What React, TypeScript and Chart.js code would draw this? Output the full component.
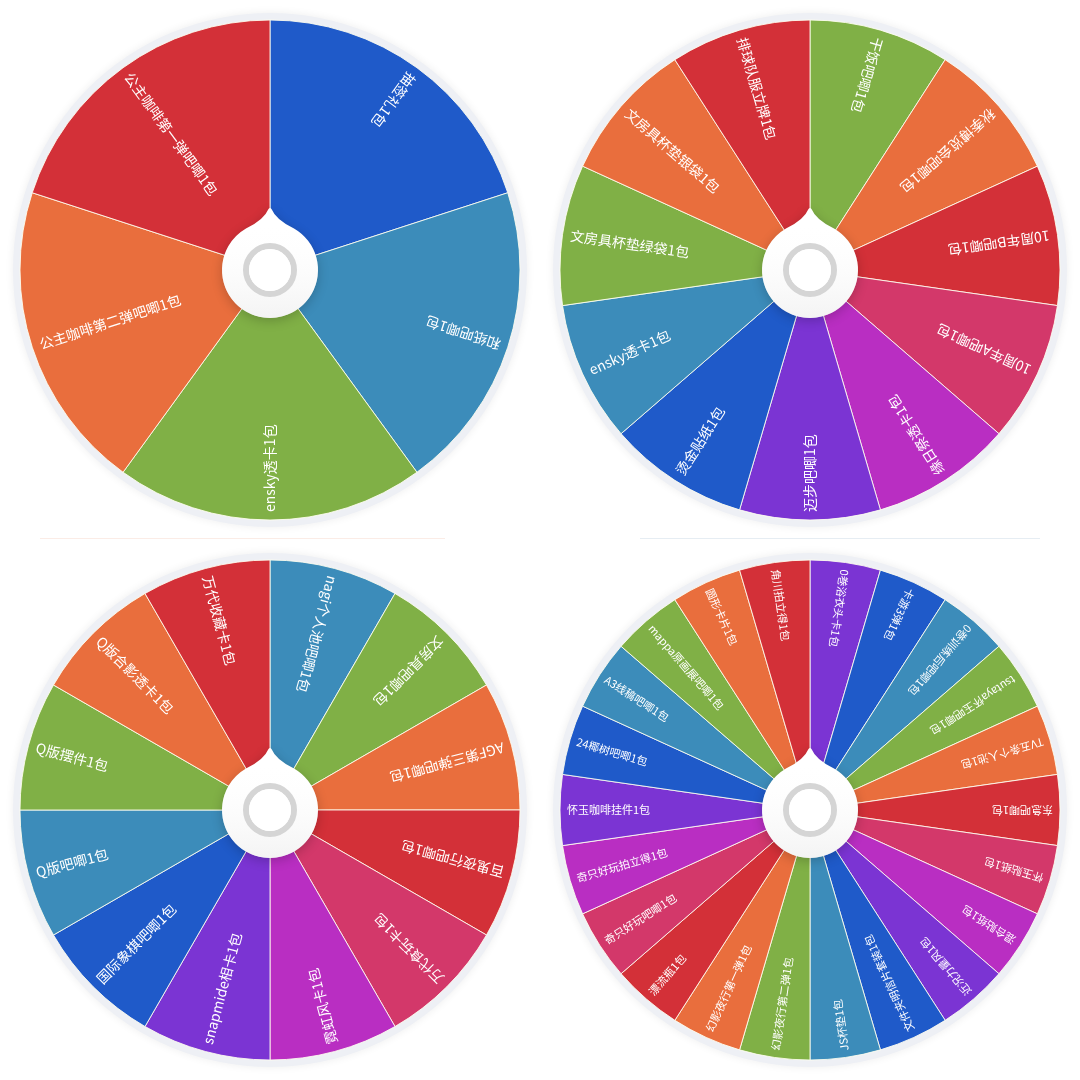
import React, { useEffect, useRef } from "react";
import { Chart, registerables } from "chart.js";

Chart.register(...registerables);

// ---- Data (clockwise from the top) ----
const wheel1Labels = ["抽签礼1包", "和纸吧唧1包", "ensky透卡1包", "公主咖啡第二弹吧唧1包", "公主咖啡第一弹吧唧1包"];
const wheel1Values = [1, 1, 1, 1, 1];

const wheel2Labels = [
  "干饭吧唧1包", "秋季博览会吧唧1包", "10周年B吧唧1包", "10周年A吧唧1包", "缘日祭透卡1包",
  "迈步吧唧1包", "烫金贴纸1包", "ensky透卡1包", "文房具杯垫绿袋1包", "文房具杯垫银袋1包", "排球队服立牌1包",
];
const wheel2Values = [1, 1, 1, 1, 1, 1, 1, 1, 1, 1, 1];

const wheel3Labels = [
  "nagi个人池吧唧1包", "文房具吧唧1包", "AGF第三弹吧唧1包", "百鬼夜行吧唧1包", "万代食玩卡1包", "霓虹风卡1包",
  "snapmide相卡1包", "国际象棋吧唧1包", "Q版吧唧1包", "Q版摆件1包", "Q版合影透卡1包", "万代收藏卡1包",
];
const wheel3Values = [1, 1, 1, 1, 1, 1, 1, 1, 1, 1, 1, 1];

const wheel4Labels = [
  "0巻浴衣头卡1包", "卡游3弹1包", "0巻训练后吧唧1包", "tsutaya怀玉吧唧1包", "TV五条个人池1包", "东急吧唧1包",
  "怀玉贴纸1包", "混合贴纸1包", "近况力量风1包", "文件夹明信片套装1包", "JS杯垫1包", "幻影夜行第二弹1包",
  "幻影夜行第一弹1包", "漂流瓶1包", "奇只好玩吧唧1包", "奇只好玩拍立得1包", "怀玉咖啡挂件1包", "24椰树吧唧1包",
  "A3线稿吧唧1包", "mappa原画展吧唧1包", "圆形卡片1包", "角川拍立得1包",
];
const wheel4Values = [1, 1, 1, 1, 1, 1, 1, 1, 1, 1, 1, 1, 1, 1, 1, 1, 1, 1, 1, 1, 1, 1];

// ---- Styles ----
const PALETTE = ["#1f5ac9", "#3c8cba", "#80b046", "#e96e3d", "#d33038", "#d3386a", "#b92ec2", "#7b34d3"];
const colorsFrom = (start: number, n: number) =>
  Array.from({ length: n }, (_, i) => PALETTE[(start + i) % PALETTE.length]);

const makeWheelPlugin = (fontSize: number, inset: number) => ({
  id: "wheelDeco",
  beforeDatasetsDraw(chart: any) {
    const arc = chart.getDatasetMeta(0).data[0];
    if (!arc) return;
    const { x, y, outerRadius } = arc.getProps(["x", "y", "outerRadius"], true);
    const ctx = chart.ctx;
    ctx.save();
    ctx.shadowColor = "rgba(0,0,0,0.07)";
    ctx.shadowBlur = 8;
    ctx.beginPath();
    ctx.arc(x, y, outerRadius + 7, 0, Math.PI * 2);
    ctx.fillStyle = "#eef0f5";
    ctx.fill();
    ctx.restore();
  },
  afterDatasetsDraw(chart: any) {
    const ctx = chart.ctx;
    const meta = chart.getDatasetMeta(0);
    const labels = chart.data.labels as string[];
    let cx = 0, cy = 0;
    meta.data.forEach((el: any, i: number) => {
      const { x, y, startAngle, endAngle, outerRadius } = el.getProps(
        ["x", "y", "startAngle", "endAngle", "outerRadius"], true);
      cx = x; cy = y;
      const mid = (startAngle + endAngle) / 2;
      ctx.save();
      ctx.translate(x, y);
      ctx.rotate(mid);
      ctx.translate(outerRadius - inset, 0);
      ctx.rotate(Math.PI);
      ctx.font = `${fontSize}px "Noto Sans CJK SC", "Noto Sans", sans-serif`;
      ctx.fillStyle = "#ffffff";
      ctx.textAlign = "left";
      ctx.textBaseline = "middle";
      ctx.fillText(labels[i], 0, 0);
      ctx.restore();
    });

    // hub with pointer
    const r = 48;
    ctx.save();
    ctx.shadowColor = "rgba(0,0,0,0.2)";
    ctx.shadowBlur = 12;
    ctx.shadowOffsetY = 3;
    ctx.fillStyle = "#ffffff";
    ctx.beginPath();
    const a = (-90 - 30) * Math.PI / 180;
    const b = (-90 + 30) * Math.PI / 180;
    ctx.moveTo(cx + r * Math.cos(b), cy + r * Math.sin(b));
    ctx.arc(cx, cy, r, b, a + Math.PI * 2, false);
    ctx.quadraticCurveTo(cx - 6, cy - 50, cx - 1.5, cy - 61);
    ctx.quadraticCurveTo(cx, cy - 63, cx + 1.5, cy - 61);
    ctx.quadraticCurveTo(cx + 6, cy - 50, cx + r * Math.cos(b), cy + r * Math.sin(b));
    ctx.closePath();
    ctx.fill();
    ctx.restore();

    ctx.save();
    const g = ctx.createLinearGradient(cx, cy - r, cx, cy + r);
    g.addColorStop(0, "rgba(255,255,255,0)");
    g.addColorStop(1, "rgba(236,236,236,0.6)");
    ctx.fillStyle = g;
    ctx.beginPath();
    ctx.arc(cx, cy, r, 0, Math.PI * 2);
    ctx.fill();
    ctx.beginPath();
    ctx.arc(cx, cy, 24, 0, Math.PI * 2);
    ctx.lineWidth = 6;
    ctx.strokeStyle = "#d5d5d5";
    ctx.stroke();
    ctx.beginPath();
    ctx.arc(cx, cy, 21, 0, Math.PI * 2);
    ctx.fillStyle = "#ffffff";
    ctx.fill();
    ctx.restore();
  },
});

function Wheel({ labels, values, colors, left, top, fontSize, inset }: any) {
  const ref = useRef<HTMLCanvasElement | null>(null);
  useEffect(() => {
    if (!ref.current) return;
    const chart = new Chart(ref.current, {
      type: "pie",
      data: {
        labels,
        datasets: [{
          data: values,
          backgroundColor: colors,
          borderColor: "rgba(255,255,240,0.85)",
          borderWidth: 1,
        }],
      },
      options: {
        responsive: false,
        animation: false,
        devicePixelRatio: 1,
        layout: { padding: 19.5 },
        plugins: { legend: { display: false }, tooltip: { enabled: false } },
        events: [],
      },
      plugins: [makeWheelPlugin(fontSize, inset)],
    });
    return () => chart.destroy();
  }, []);
  return (
    <canvas
      ref={ref}
      width={540}
      height={540}
      style={{ position: "absolute", left, top, width: 540, height: 540, display: "block" }}
    />
  );
}

export default function App() {
  return (
    <div style={{ position: "absolute", left: 0, top: 0, width: 1080, height: 1080, background: "#ffffff", overflow: "hidden" }}>
      <Wheel labels={wheel1Labels} values={wheel1Values} colors={colorsFrom(0, wheel1Values.length)} left={0} top={0} fontSize={14} inset={8} />
      <Wheel labels={wheel2Labels} values={wheel2Values} colors={colorsFrom(2, wheel2Values.length)} left={540} top={0} fontSize={14} inset={8} />
      <Wheel labels={wheel3Labels} values={wheel3Values} colors={colorsFrom(1, wheel3Values.length)} left={0} top={540} fontSize={14} inset={8} />
      <Wheel labels={wheel4Labels} values={wheel4Values} colors={colorsFrom(7, wheel4Values.length)} left={540} top={540} fontSize={11} inset={7} />
      <div style={{ position: "absolute", left: 40, top: 538, width: 405, height: 1, background: "#fbece6" }} />
      <div style={{ position: "absolute", left: 640, top: 538, width: 400, height: 1, background: "#e6edf3" }} />
    </div>
  );
}
